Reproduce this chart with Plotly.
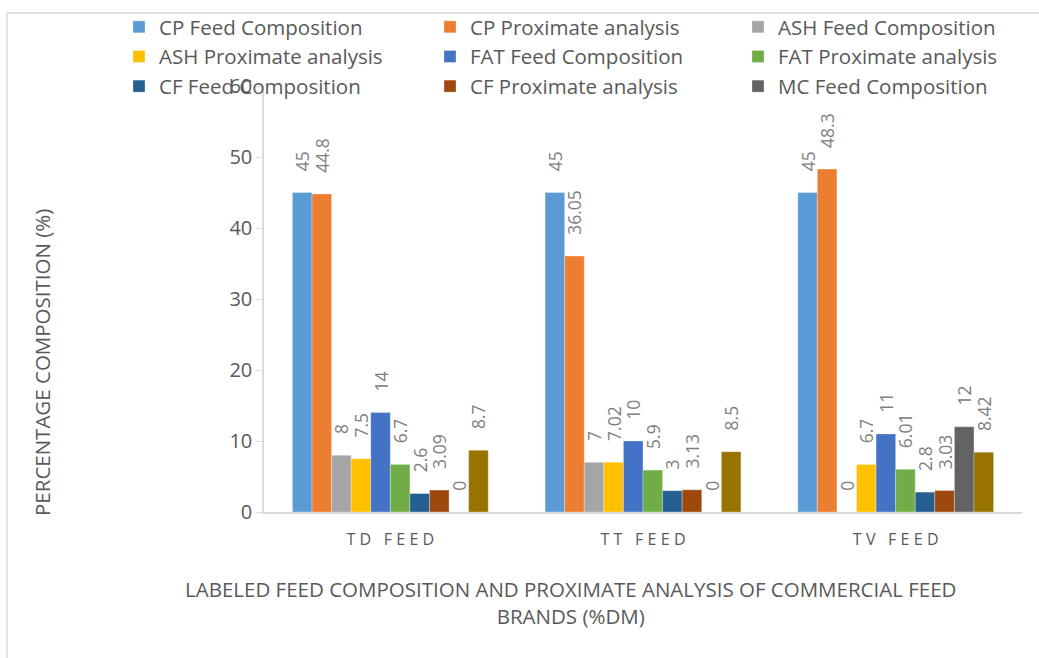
import plotly.graph_objects as go

categories = ["TD FEED", "TT FEED", "TV FEED"]

series_names = [
    "CP Feed Composition", "CP Proximate analysis", "ASH Feed Composition",
    "ASH Proximate analysis", "FAT Feed Composition", "FAT Proximate analysis",
    "CF Feed Composition", "CF Proximate analysis", "MC Feed Composition",
    "MC Proximate analysis",
]

cp_feed = [45, 45, 45]
cp_prox = [44.8, 36.05, 48.3]
ash_feed = [8, 7, 0]
ash_prox = [7.5, 7.02, 6.7]
fat_feed = [14, 10, 11]
fat_prox = [6.7, 5.9, 6.01]
cf_feed = [2.6, 3, 2.8]
cf_prox = [3.09, 3.13, 3.03]
mc_feed = [0, 0, 12]
mc_prox = [8.7, 8.5, 8.42]

series_values = [cp_feed, cp_prox, ash_feed, ash_prox, fat_feed, fat_prox,
                 cf_feed, cf_prox, mc_feed, mc_prox]

colors = ["#5B9BD5", "#ED7D31", "#A5A5A5", "#FFC000", "#4472C4", "#70AD47",
          "#255E91", "#9E480E", "#636363", "#997300"]

# which legend column each series belongs to (3 columns, filled row by row)
legend_ids = ["legend", "legend2", "legend3", "legend", "legend2", "legend3",
              "legend", "legend2", "legend3", None]

FONT = "Open Sans"
W, H = 1039, 658
L, R, T, B = 264, 17, 86, 146
PW, PH = W - L - R, H - T - B

# letter-spaced category tick text (same words, wider tracking)
tick_text = ["\u2009\u200a".join(list(c)) for c in categories]

fig = go.Figure()
for name, vals, col, lg in zip(series_names, series_values, colors, legend_ids):
    fig.add_trace(go.Bar(
        name=name, x=categories, y=vals,
        marker=dict(color=col, line=dict(color="rgba(255,255,255,0.6)", width=0.5)),
        text=["\u00a0\u00a0\u00a0\u00a0" + str(v) for v in vals],
        textposition="outside", textangle=-90, constraintext="none",
        textfont=dict(family=FONT, size=17.5, color="#808080"),
        cliponaxis=False,
        showlegend=lg is not None,
        legend=lg if lg is not None else "legend",
    ))

legend_common = dict(
    orientation="v", xref="container", yref="container",
    yanchor="top", xanchor="left",
    font=dict(family=FONT, size=20.5, color="#595959"),
    bgcolor="rgba(0,0,0,0)", itemclick=False, itemdoubleclick=False,
)

fig.update_layout(
    width=W, height=H,
    margin=dict(l=L, r=R, t=T, b=B, autoexpand=False),
    paper_bgcolor="white", plot_bgcolor="white",
    barmode="group", bargap=0.225, bargroupgap=0,
    font=dict(family=FONT, color="#595959"),
    legend=dict(x=119 / W, y=1 - 7 / H, **legend_common),
    legend2=dict(x=430 / W, y=1 - 7 / H, **legend_common),
    legend3=dict(x=738 / W, y=1 - 7 / H, **legend_common),
    xaxis=dict(
        showline=True, linecolor="#D9D9D9", linewidth=1.5,
        ticks="", showgrid=False, automargin=False,
        tickmode="array", tickvals=categories, ticktext=tick_text,
        ticklabelstandoff=12,
        tickfont=dict(family=FONT, size=16, color="#595959"),
    ),
    yaxis=dict(
        range=[0, 60], dtick=10, showgrid=False, zeroline=False,
        showline=True, linecolor="#D9D9D9", linewidth=1.5, automargin=False,
        ticks="outside", ticklen=6, tickcolor="#D9D9D9",
        tickfont=dict(family=FONT, size=20, color="#595959"),
    ),
    annotations=[
        dict(text="LABELED FEED COMPOSITION AND PROXIMATE ANALYSIS OF COMMERCIAL FEED<br>BRANDS (%DM)",
             xref="paper", yref="paper",
             x=(570 - L) / PW, y=(H - B - 602) / PH,
             xanchor="center", yanchor="middle", showarrow=False,
             font=dict(family=FONT, size=20.5, color="#595959")),
        dict(text="PERCENTAGE COMPOSITION (%)",
             xref="paper", yref="paper",
             x=(42 - L) / PW, y=(H - B - 362) / PH,
             xanchor="center", yanchor="middle", textangle=-90, showarrow=False,
             font=dict(family=FONT, size=20.5, color="#595959")),
    ],
    shapes=[
        dict(type="line", xref="paper", yref="paper",
             x0=(7 - L) / PW, x1=(7 - L) / PW, y0=(H - B - 13) / PH, y1=(H - B - 700) / PH,
             line=dict(color="#D9D9D9", width=1.5)),
        dict(type="line", xref="paper", yref="paper",
             x0=(7 - L) / PW, x1=(1100 - L) / PW, y0=(H - B - 13) / PH, y1=(H - B - 13) / PH,
             line=dict(color="#D9D9D9", width=1.5)),
    ],
)

fig.write_html("out.html", config={"displayModeBar": False},
               post_script="document.body.style.margin='0';")
